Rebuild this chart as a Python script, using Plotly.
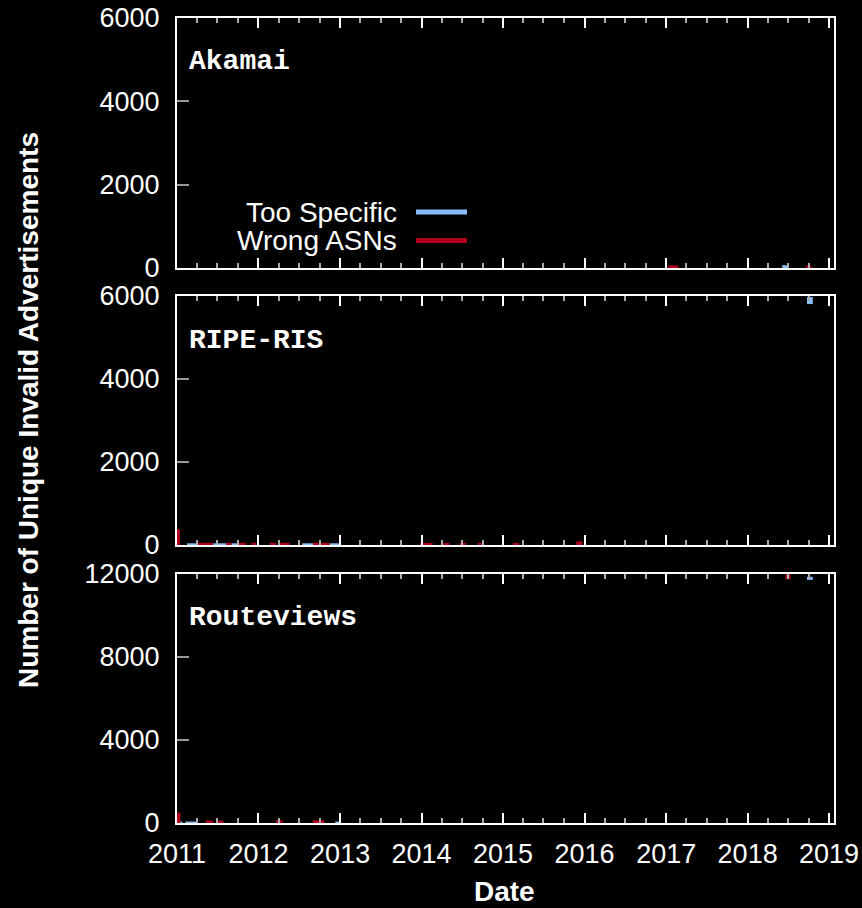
import plotly.graph_objects as go
from plotly.subplots import make_subplots

# ---------------- data (segments separated by None) ----------------
panels = ["Akamai", "RIPE-RIS", "Routeviews"]
y_max = [6000, 6000, 12000]
y_ticks = [[0, 2000, 4000, 6000], [0, 2000, 4000, 6000], [0, 4000, 8000, 12000]]
x_ticks = [str(y) for y in range(2011, 2020)]

ak_spec_x = ["2017-01-15", "2017-02-20", None, "2018-06-05", "2018-06-28"]
ak_spec_y = [0, 0, None, 20, 20]
ak_wrong_x = ["2017-01-10", "2017-02-25", None, "2018-09-20", "2018-10-14"]
ak_wrong_y = [15, 15, None, 10, 10]

ripe_spec_x = ["2011-02-15", "2011-04-10", None, "2011-06-12", "2011-08-10", None,
               "2011-09-02", "2011-10-01", None, "2012-07-15", "2012-09-15", None,
               "2012-11-15", "2012-12-28"]
ripe_spec_y = [5, 5, None, 5, 5, None, 5, 5, None, 5, 5, None, 5, 5]
ripe_wrong_x = ["2011-01-05", "2011-01-05", None, "2011-04-05", "2011-06-12", None,
                "2011-08-10", "2011-09-02", None, "2011-10-01", "2011-11-07", None,
                "2011-11-30", "2011-12-23", None, "2012-02-20", "2012-03-20", None,
                "2012-04-05", "2012-05-20", None, "2012-09-01", "2012-11-15", None,
                "2013-12-25", "2014-02-20", None, "2014-03-28", "2014-05-05", None,
                "2014-06-20", "2014-07-20", None, "2014-09-10", "2014-10-08", None,
                "2015-02-15", "2015-03-15", None, "2015-11-25", "2015-12-22"]
ripe_wrong_y = [0, 380, None, 5, 5, None, 5, 5, None, 5, 5, None,
                5, 5, None, 5, 5, None, 5, 5, None, 5, 5, None,
                0, 0, None, 0, 0, None, 0, 0, None, 0, 0, None,
                0, 0, None, 40, 40]
ripe_top_x = ["2018-09-24", "2018-10-20"]
ripe_top_y = [5890, 5890]

rv_spec_x = ["2011-01-03", "2011-01-25", None, "2011-02-08", "2011-04-05", None,
             "2012-12-10", "2012-12-31", None, "2018-09-24", "2018-10-20"]
rv_spec_y = [0, 0, None, 0, 0, None, 0, 0, None, 11790, 11790]
rv_wrong_x = ["2011-01-05", "2011-01-05", None, "2011-05-10", "2011-06-12", None,
              "2011-06-28", "2011-07-28", None, "2012-03-20", "2012-04-18", None,
              "2012-09-01", "2012-10-22", None, "2018-06-20", "2018-07-12"]
rv_wrong_y = [0, 500, None, 0, 0, None, 0, 0, None, 10, 10, None,
              10, 10, None, 11870, 11870]

BLUE = "#86bdfa"
RED = "#b0001e"
FONT = "Liberation Sans, Arial, sans-serif"
MONO = "Liberation Mono, Courier New, monospace"

W, H = 862, 908
L, R, T, B = 177, 28, 18, 85
PW, PH = W - L - R, H - T - B

def px_y(py):
    return (H - B - py) / PH

def px_x(px):
    return (px - L) / PW

fig = make_subplots(rows=3, cols=1, shared_xaxes=True)

series = [
    [(ak_spec_x, ak_spec_y, BLUE, 4), (ak_wrong_x, ak_wrong_y, RED, 4)],
    [(ripe_spec_x, ripe_spec_y, BLUE, 3), (ripe_wrong_x, ripe_wrong_y, RED, 4),
     (ripe_top_x, ripe_top_y, BLUE, 7)],
    [(rv_spec_x, rv_spec_y, BLUE, 3), (rv_wrong_x, rv_wrong_y, RED, 5)],
]
names = {BLUE: "Too Specific", RED: "Wrong ASNs"}
for i, group in enumerate(series):
    for xs, ys, col, w in group:
        fig.add_trace(go.Scatter(x=xs, y=ys, mode="lines", name=names[col],
                                 line=dict(color=col, width=w), connectgaps=False,
                                 showlegend=False), row=i + 1, col=1)

domains = [(px_y(268), px_y(18)), (px_y(545), px_y(296)), (px_y(823), px_y(574))]

for i in range(3):
    ax = "" if i == 0 else str(i + 1)
    fig.layout["xaxis" + ax].update(
        type="date", range=["2011-01-01", "2019-01-23"],
        showline=True, linecolor="white", linewidth=2, mirror="allticks",
        ticks="inside", ticklen=10, tickwidth=2, tickcolor="white",
        dtick="M12", tick0="2011-01-01", tickformat="%Y",
        showgrid=False, zeroline=False,
        showticklabels=(i == 2), ticklabelstandoff=6,
        tickfont=dict(family=FONT, size=27, color="white"),
        minor=dict(dtick="M3", ticks="inside", ticklen=5, tickwidth=2,
                   tickcolor="#aaaaaa", showgrid=False),
    )
    fig.layout["yaxis" + ax].update(
        domain=list(domains[i]), range=[0, y_max[i]],
        tickvals=y_ticks[i], ticktext=[str(v) for v in y_ticks[i]],
        showline=True, linecolor="white", linewidth=2, mirror=True,
        ticks="inside", ticklen=12, tickwidth=2, tickcolor="#999999",
        showgrid=False, zeroline=False, ticklabelstandoff=10,
        tickfont=dict(family=FONT, size=27, color="white"),
    )

ann = []
for name, py in zip(panels, [62, 340, 617]):
    ann.append(dict(text="<b>%s</b>" % name, x=px_x(187), y=px_y(py), xref="paper", yref="paper",
                    xanchor="left", yanchor="middle", showarrow=False,
                    font=dict(family=MONO, size=28, color="white")))
for label, py in [("Too Specific", 212), ("Wrong ASNs", 240.5)]:
    ann.append(dict(text=label, x=px_x(399), y=px_y(py), xref="paper", yref="paper",
                    xanchor="right", yanchor="middle", showarrow=False,
                    font=dict(family=FONT, size=28, color="white")))
ann.append(dict(text="<b>Number of Unique Invalid Advertisements</b>", x=px_x(29), y=px_y(410),
                xref="paper", yref="paper", xanchor="center", yanchor="middle",
                textangle=-90, showarrow=False,
                font=dict(family=FONT, size=28, color="white")))
ann.append(dict(text="<b>Date</b>", x=px_x(504), y=px_y(892), xref="paper", yref="paper",
                xanchor="center", yanchor="middle", showarrow=False,
                font=dict(family=FONT, size=28, color="white")))

shapes = []
for col, py in [(BLUE, 212), (RED, 240.5)]:
    shapes.append(dict(type="line", xref="paper", yref="paper",
                       x0=px_x(416), x1=px_x(467), y0=px_y(py), y1=px_y(py),
                       line=dict(color=col, width=5)))

fig.update_layout(
    width=W, height=H, margin=dict(l=L, r=R, t=T, b=B, autoexpand=False),
    paper_bgcolor="black", plot_bgcolor="black",
    showlegend=False, annotations=ann, shapes=shapes,
    font=dict(family=FONT, color="white"),
)

fig.write_html("out.html")
